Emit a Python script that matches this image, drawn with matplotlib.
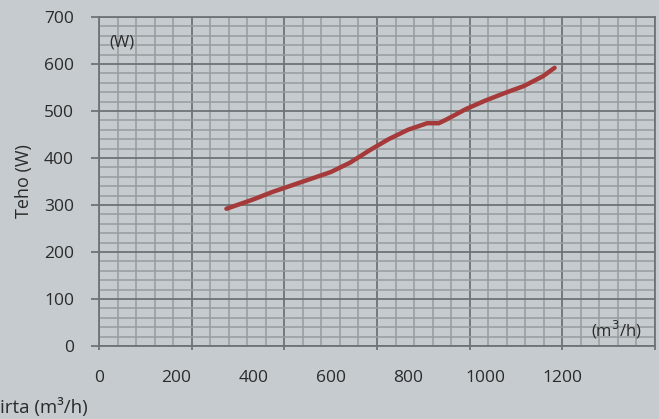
import numpy as np
import matplotlib.pyplot as plt

# airflow (m3/h) vs power (W)
flow = [330, 400, 450, 500, 550, 600, 650, 700, 750, 800, 850, 880, 900, 950,
        1000, 1050, 1100, 1150, 1180]
power = [292, 312, 328, 342, 356, 370, 390, 416, 440, 460, 474, 474, 482, 504,
         522, 538, 553, 574, 592]

x_labels = [0, 200, 400, 600, 800, 1000, 1200]
y_ticks = [0, 100, 200, 300, 400, 500, 600, 700]

bg = '#c5cbce'
minor_c = '#979c9f'
major_c = '#6e7376'
text_c = '#2b2b2b'

plt.rcParams['font.family'] = ['Open Sans', 'DejaVu Sans']

fig = plt.figure(figsize=(6.59, 4.19), dpi=100, facecolor=bg)
ax = fig.add_axes([99 / 659, 1 - 346 / 419, 556 / 659, 329 / 419])
ax.set_facecolor(bg)

ax.set_xlim(0, 1440)
ax.set_ylim(0, 700)

# grid: x every 240 (minor 48), y every 100 (minor 20)
ax.set_xticks(np.arange(0, 1441, 240))
ax.set_xticks(np.arange(0, 1441, 48), minor=True)
ax.set_yticks(y_ticks)
ax.set_yticks(np.arange(0, 701, 20), minor=True)
ax.grid(which='minor', color=minor_c, lw=1.1)
ax.grid(which='major', color=major_c, lw=1.3)
ax.set_axisbelow(True)

ax.tick_params(axis='x', which='major', length=3, width=1.3, color=major_c,
               labelbottom=False)
ax.tick_params(axis='y', which='major', length=6, width=1.3, color=major_c,
               pad=12, labelsize=12.5, labelcolor=text_c)
ax.tick_params(which='minor', length=0)

for s in ax.spines.values():
    s.set_color(major_c)
    s.set_linewidth(1.3)

# tick labels at 200 steps on their own axis
sec = ax.secondary_xaxis('bottom')
sec.set_xticks(x_labels)
sec.tick_params(length=0, pad=17, labelsize=12.5, labelcolor=text_c)
sec.spines['bottom'].set_visible(False)

ax.plot(flow, power, color='#a63a3a', lw=3.2, solid_capstyle='round',
        solid_joinstyle='round', zorder=3)

ax.set_ylabel('Teho (W)', fontsize=13, color=text_c, labelpad=8)
ax.text(26, 645, '(W)', fontsize=12, color=text_c, va='center', ha='left')
ax.text(1406, 34, '(m$^3$/h)', fontsize=12, color=text_c, va='center', ha='right')

fig.text(0, 1 - 407 / 419, 'irta (m³/h)', fontsize=13.5, color=text_c,
         va='center', ha='left')

fig.savefig('out.png', dpi=100, facecolor=bg)
